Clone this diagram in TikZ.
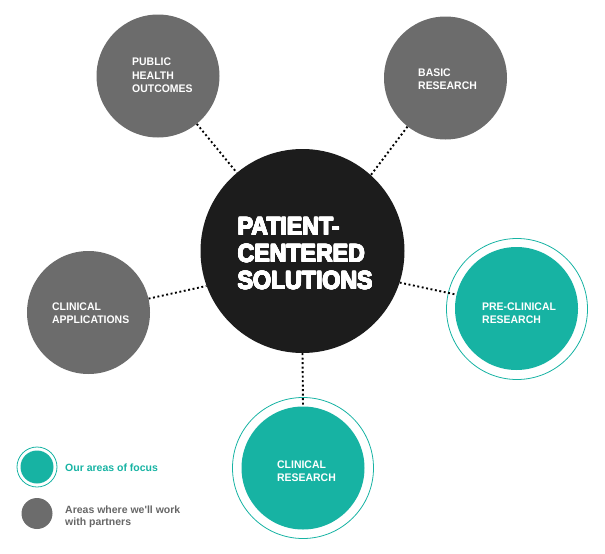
\documentclass[tikz,border=0pt]{standalone}
\usepackage{fontspec}
\usepackage{contour}
\contourlength{0.55pt}
\contournumber{16}
\setmainfont{Liberation Sans}
\newfontfamily\labf[FakeStretch=0.95]{Liberation Sans}
\newfontfamily\bigf[FakeStretch=0.925]{Liberation Sans}
\definecolor{tealc}{HTML}{17B3A3}
\definecolor{grayc}{HTML}{6C6C6C}
\definecolor{blackc}{HTML}{1C1C1C}
\definecolor{legray}{HTML}{666666}
\tikzset{
  disc/.style={circle, inner sep=0pt, draw=none},
  graydisc/.style={disc, fill=grayc, minimum size=123pt},
  tealdisc/.style={disc, fill=tealc, minimum size=123pt},
  ring/.style={circle, inner sep=0pt, draw=tealc, line width=0.8pt, fill=none, minimum size=141pt},
  lab/.style={anchor=base west, inner sep=0pt, text=white, font=\labf\bfseries\fontsize{11}{13}\selectfont},
  biglab/.style={anchor=base west, inner sep=0pt, text=white, font=\bigf\bfseries\fontsize{25}{27}\selectfont},
  leg/.style={anchor=base west, inner sep=0pt, font=\bfseries\fontsize{10.5}{11}\selectfont},
  dots/.style={draw=black, line width=1.9pt, dash pattern=on 1.9pt off 2.6pt}
}
\begin{document}
\begin{tikzpicture}[x=1pt,y=-1pt]
\useasboundingbox (0,0) rectangle (605,554);
% circles
\node[disc, fill=blackc, minimum size=204pt] (main) at (302.5,251) {};
\node[graydisc] (pho) at (158,76) {};
\node[graydisc] (basic) at (445.5,78) {};
\node[graydisc] (capp) at (88.5,312.5) {};
\node[ring] (preO) at (517,309) {};
\node[tealdisc] (pre) at (516.5,308.5) {};
\node[ring] (cresO) at (303,468) {};
\node[tealdisc] (cres) at (303,468) {};
% connectors
\draw[dots] (pho.-51.5) -- (main.130);
\draw[dots] (basic.232.6) -- (main.48);
\draw[dots] (capp.13) -- (main.-160.3);
\draw[dots] (main.-18.9) -- (pre.167);
\draw[dots] (main.-90) -- (cres.90);
% center text
\node[biglab] (m1) at (237.5,235) {\contour{white}{PATIENT-}};
\node[biglab] (m2) at (237.5,262) {\contour{white}{CENTERED}};
\node[biglab] (m3) at (237.5,289) {\contour{white}{SOLUTIONS}};
% labels
\node[lab] (ph1) at (132,65.7) {PUBLIC};
\node[lab] (ph2) at (132,79) {HEALTH};
\node[lab] (ph3) at (132,92.3) {OUTCOMES};
\node[lab] (b1) at (418,76) {BASIC};
\node[lab] (b2) at (418,89.3) {RESEARCH};
\node[lab] (c1) at (52,310) {CLINICAL};
\node[lab] (c2) at (52,323.3) {APPLICATIONS};
\node[lab] (p1) at (482,310) {PRE-CLINICAL};
\node[lab] (p2) at (482,323.3) {RESEARCH};
\node[lab] (r1) at (277,468) {CLINICAL};
\node[lab] (r2) at (277,481.5) {RESEARCH};
% legend
\node[circle, inner sep=0pt, draw=tealc, line width=0.8pt, minimum size=40pt] (lgO) at (37,467) {};
\node[disc, fill=tealc, minimum size=33pt] (lgT) at (37,467) {};
\node[disc, fill=grayc, minimum size=31pt] (lgG) at (37,513.5) {};
\node[leg, text=tealc] (lt1) at (65,471.5) {Our areas of focus};
\node[leg, text=legray] (lt2) at (65,513.8) {Areas where we\textquotesingle ll work};
\node[leg, text=legray] (lt3) at (65,525) {with partners};
\end{tikzpicture}
\end{document}
